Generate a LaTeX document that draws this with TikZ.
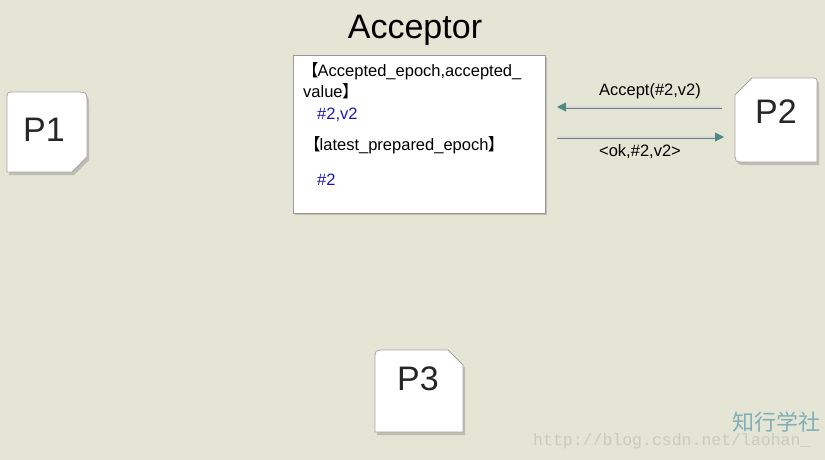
\documentclass[tikz,border=0pt]{standalone}
\usepackage{fontspec}
\setmainfont{Liberation Sans}
\setmonofont{Liberation Mono}
\newfontfamily\cjk{Noto Sans CJK SC}
\usetikzlibrary{arrows.meta}
\definecolor{bg}{HTML}{E5E5D5}
\definecolor{shadowc}{HTML}{BDBDB2}
\definecolor{arrc}{HTML}{6F7C7C}
\definecolor{headc}{HTML}{4E8A8A}
\definecolor{valc}{HTML}{1A1AB0}
\definecolor{wmteal}{HTML}{7FAFB8}
\definecolor{wmgray}{HTML}{CACABE}
\newcommand\lbr{{\cjk 【}\kern-1pt}
\newcommand\rbr{\kern-0.5pt{\cjk 】}}
\newcommand\pOnePath{(7,172) -- (7,100) .. controls (7,92) .. (15,92) -- (75,92) .. controls (87,92) .. (87,104) -- (87,157) -- (72,172) -- cycle}
\newcommand\pTwoPath{(735,95) -- (752,78) -- (811,78) .. controls (817,78) .. (817,84) -- (817,162) -- (745,162) .. controls (735,162) .. (735,152) -- cycle}
\newcommand\pThreePath{(375,432) -- (375,360) .. controls (375,350) .. (385,350) -- (448,350) -- (463,365) -- (463,432) -- cycle}
\tikzset{
  pbox/.style={fill=white, draw=gray!70, line width=0.8pt},
  pshadow/.style={fill=shadowc, shift={(2,3)}},
  plabel/.style={font=\fontsize{34}{34}\selectfont, text=black!85},
  boxtext/.style={font=\fontsize{16.5}{16.5}\selectfont, anchor=base west, inner sep=0pt},
  valtext/.style={boxtext, text=valc},
  msg/.style={draw=arrc, double=gray!30, double distance=1.2pt, line width=0.9pt, -{Triangle[length=9pt,width=9pt,color=headc,fill=headc]}},
  msglabel/.style={font=\fontsize{16.5}{16.5}\selectfont, inner sep=0pt}
}
\begin{document}
\begin{tikzpicture}[x=1pt,y=-1pt]
\useasboundingbox (0,0) rectangle (825,460);
\fill[bg] (0,0) rectangle (825,460);
% P1
\path[pshadow] \pOnePath;
\draw[pbox] \pOnePath;
\node[plabel] (p1) at (44,130) {P1};
% P2
\path[pshadow] \pTwoPath;
\draw[pbox] \pTwoPath;
\node[plabel] (p2) at (776,112) {P2};
% P3
\path[pshadow] \pThreePath;
\draw[pbox] \pThreePath;
\node[plabel] (p3) at (418,379) {P3};
% Acceptor
\node[font=\fontsize{34}{34}\selectfont] (title) at (415,30) {Acceptor};
\fill[shadowc] (295,57) rectangle (547,215);
\draw[fill=white, draw=gray!80, line width=0.8pt] (293,55) rectangle (545,213);
\node[boxtext] (t1) at (302,77) {\lbr Accepted\_epoch,accepted\_};
\node[boxtext] (t2) at (303,98) {value\rbr};
\node[valtext] (t3) at (317,119) {\#2,v2};
\node[boxtext] (t4) at (304,150) {\lbr latest\_prepared\_epoch\rbr};
\node[valtext] (t5) at (317,185) {\#2};
% messages
\coordinate (a1s) at (722,107);
\coordinate (a1e) at (557,107);
\coordinate (a2s) at (557,137);
\coordinate (a2e) at (724,137);
\draw[msg] (a1s) -- (a1e);
\draw[msg] (a2s) -- (a2e);
\node[msglabel] (l1) at (650,91) {Accept(\#2,v2)};
\node[msglabel] (l2) at (640,152) {<ok,\#2,v2>};
% watermark
\node[font=\cjk\fontsize{22}{22}\selectfont, text=wmteal, anchor=west, inner sep=0pt] (wm1) at (732,422) {知行学社};
\node[font=\ttfamily\fontsize{16.5}{16.5}\selectfont, text=wmgray, anchor=west, inner sep=0pt] (wm2) at (533,441) {http://blog.csdn.net/laohan\_};
\end{tikzpicture}
\end{document}
